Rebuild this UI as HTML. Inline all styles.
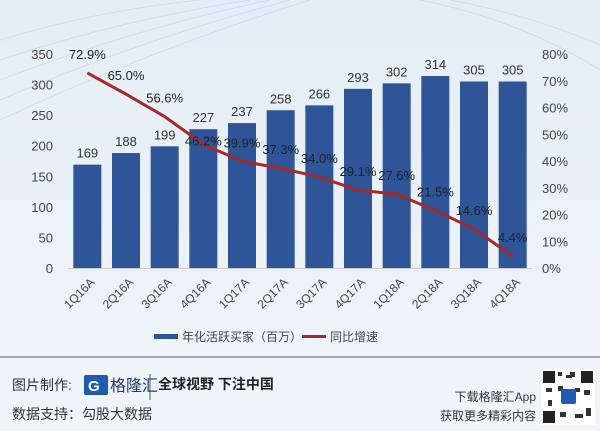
<!DOCTYPE html>
<html><head><meta charset="utf-8"><style>
body{margin:0;width:600px;height:431px;overflow:hidden;background:#eef3f8;font-family:"Liberation Sans","Noto Sans CJK SC",sans-serif;}
svg{display:block}
</style></head><body>
<svg width="600" height="431" viewBox="0 0 600 431">
<defs><linearGradient id="bg" x1="0" y1="0" x2="0" y2="1"><stop offset="0" stop-color="#e4edf6"/><stop offset="1" stop-color="#f1f5f9"/></linearGradient></defs>
<rect width="600" height="431" fill="url(#bg)"/>
<g stroke="#c6d9ee" fill="none" stroke-width="1" opacity="0.8">
<path d="M0 60 Q120 20 250 0"/><path d="M0 80 Q130 30 270 0"/><path d="M0 100 Q140 40 290 0"/><path d="M0 40 Q100 10 200 0"/><path d="M0 120 Q150 50 310 0"/>
<path d="M420 0 Q520 20 600 70"/><path d="M450 0 Q530 15 600 45"/>
</g>
<g id="axes"></g>
<g id="bars"></g>
<g id="line"></g>
<g id="labels"></g>
<g>
<rect x="154" y="334" width="24" height="5" fill="#2e5597"/>
<text x="182" y="341" font-size="12" fill="#444">年化活跃买家（百万）</text>
<rect x="302" y="335" width="24" height="3" fill="#a52a2a"/>
<text x="330" y="341" font-size="12" fill="#444">同比增速</text>
</g>
<line x1="0" y1="357" x2="600" y2="357" stroke="#555" stroke-width="1"/>
<g>
<text x="12" y="390" font-size="14" fill="#333">图片制作:</text>
<rect x="84" y="375" width="24" height="20" rx="2" fill="#1f5bb5"/>
<text x="88" y="391" font-size="15" font-weight="bold" fill="#fff">G</text>
<text x="110" y="391" font-size="16" fill="#1c3c6e">格隆汇</text>
<line x1="150" y1="374" x2="150" y2="400" stroke="#555"/>
<text x="158" y="389" font-size="14" font-weight="bold" fill="#222">全球视野 下注中国</text>
<text x="12" y="419" font-size="14" fill="#333">数据支持：勾股大数据</text>
<text x="536" y="401" font-size="12" fill="#333" text-anchor="end">下载格隆汇App</text>
<text x="536" y="420" font-size="12" fill="#333" text-anchor="end">获取更多精彩内容</text>
<g>
<rect x="541" y="369" width="54" height="56" fill="#fff"/>
<path d="M543 371h12v12h-12zM581 371h12v12h-12zM543 411h12v12h-12z" fill="#222"/>
<path d="M558 372h4v4h-4zM566 375h6v3h-6zM558 386h5v5h-5zM546 388h6v4h-6zM575 388h5v4h-5zM584 390h6v5h-6zM560 412h6v5h-6zM575 414h8v4h-8zM586 408h5v8h-5zM548 400h4v6h-4zM570 372h5v5h-5z" fill="#333"/>
<rect x="561" y="389" width="15" height="15" rx="2" fill="#1f5bb5"/>
</g>
</g>
</svg>
<script>
const categories=["1Q16A","2Q16A","3Q16A","4Q16A","1Q17A","2Q17A","3Q17A","4Q17A","1Q18A","2Q18A","3Q18A","4Q18A"];
const buyers=[169,188,199,227,237,258,266,293,302,314,305,305];
const growth=[72.9,65.0,56.6,46.2,39.9,37.3,34.0,29.1,27.6,21.5,14.6,4.4];
const leftTicks=[0,50,100,150,200,250,300,350];
const rightTicks=[0,10,20,30,40,50,60,70,80];
const NS="http://www.w3.org/2000/svg";
const x0=68,x1=532,yB=268,yT=54;
const step=(x1-x0)/categories.length;
const xc=i=>x0+step*(i+0.5);
const yL=v=>yB-(v/350)*(yB-yT);
const yR=v=>yB-(v/80)*(yB-yT);
function mk(tag,attrs,parent,txt){const e=document.createElementNS(NS,tag);for(const k in attrs)e.setAttribute(k,attrs[k]);if(txt!==undefined)e.textContent=txt;parent.appendChild(e);return e;}
const axes=document.getElementById('axes'),bars=document.getElementById('bars'),line=document.getElementById('line'),labels=document.getElementById('labels');
const base=mk('line',{x1:x0,x2:x1,y1:yB+0.5,y2:yB+0.5,stroke:'#c8ccd2','stroke-width':1},axes);


leftTicks.forEach(v=>{const t=mk('text',{x:53,y:yL(v)+5,'font-size':13,fill:'#444','text-anchor':'end'},axes,String(v));

});
rightTicks.forEach(v=>{const t=mk('text',{x:542,y:yR(v)+5,'font-size':13,fill:'#444'},axes,v+'%');

});
categories.forEach((c,i)=>{const t=mk('text',{x:xc(i)+8,y:283,'font-size':12,fill:'#444','text-anchor':'end',transform:`rotate(-45 ${xc(i)+8} 283)`},axes,c);

});
const bw=28;
buyers.forEach((v,i)=>{const r=mk('rect',{x:xc(i)-bw/2,y:yL(v),width:bw,height:yB-yL(v),fill:'#2e5597'},bars);


const t=mk('text',{x:xc(i),y:yL(v)-7,'font-size':13,fill:'#333','text-anchor':'middle'},labels,String(v));

});
let d='';growth.forEach((v,i)=>{d+=(i?'L':'M')+xc(i)+' '+yR(v);});
const p=mk('path',{d:d,fill:'none',stroke:'#a52a2a','stroke-width':3,'stroke-linejoin':'round'},line);


growth.forEach((v,i)=>{const t=mk('text',{x:xc(i),y:yR(v)+(i===3?1:-14),'font-size':13,fill:'#222','text-anchor':'middle'},labels,v.toFixed(1)+'%');

});
</script>
</body></html>
